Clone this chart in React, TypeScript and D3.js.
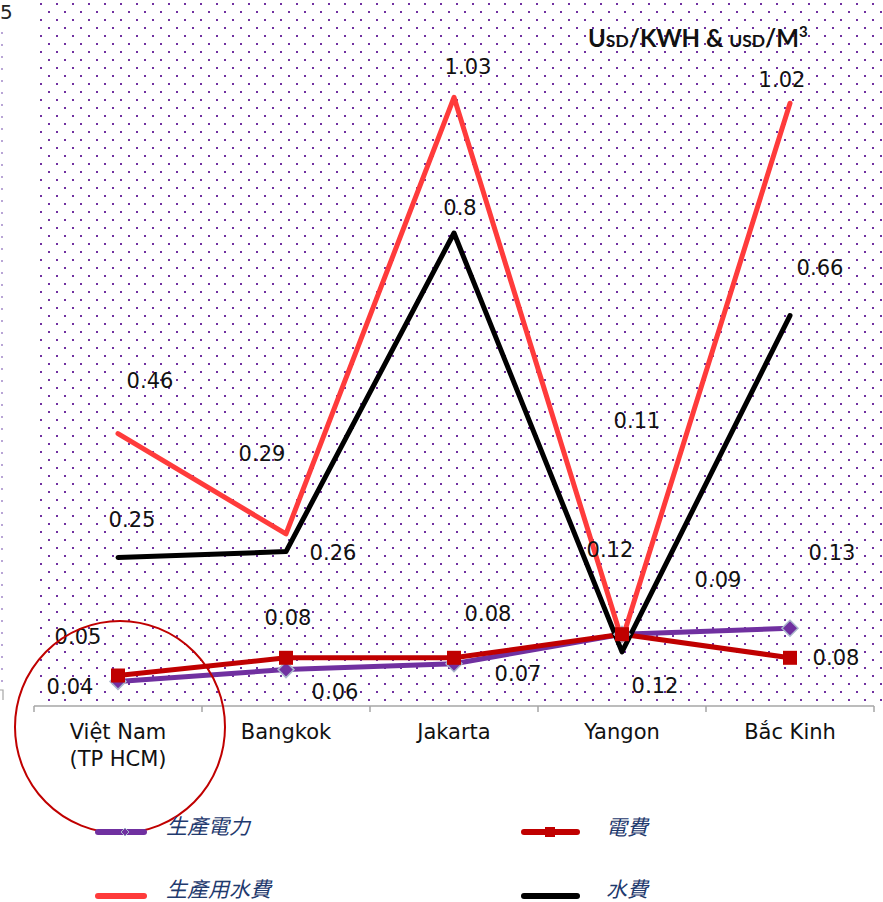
import React from "react";
import * as d3 from "d3";

const categories = ["Việt Nam|(TP HCM)", "Bangkok", "Jakarta", "Yangon", "Bắc Kinh"];
const prodPower = [0.04, 0.06, 0.07, 0.12, 0.13]; // 生產電力
const powerFee = [0.05, 0.08, 0.08, 0.12, 0.08]; // 電費
const prodWater = [0.46, 0.29, 1.03, 0.11, 1.02]; // 生產用水費
const waterFee = [0.25, 0.26, 0.8, 0.09, 0.66]; // 水費
const seriesNames = ["生產電力", "電費", "生產用水費", "水費"];
const titleParts = ["U", "SD", "/KWH & ", "USD", "/M", "3"];

// label offsets (dx, dy) from each point, as placed in the original chart
const offProdPower = [[-48, 5], [49, 22], [64, 10], [33, 51], [42, -76]];
const offPowerFee = [[-40, -39], [2, -40], [34, -44], [-12, -85], [46, 0]];
const offProdWater = [[32, -53], [-24, -80], [14, -31], [15, -220], [-8, -24]];
const offWaterFee = [[14, -38], [47, 1], [6, -26], [96, -72], [30, -48]];

const W = 883;
const H = 902;

export default function App() {
  const x = d3.scaleBand<string>().domain(categories).range([34, 874]).padding(0);
  const y = d3.scaleLinear().domain([0, 1]).range([705, 115]);
  const cx = (i: number) => (x(categories[i]) as number) + x.bandwidth() / 2;
  const line = d3
    .line<number>()
    .x((_, i) => cx(i))
    .y((d) => y(d));

  const series = [
    { vals: prodPower, color: "#7030a0", off: offProdPower, marker: "diamond" },
    { vals: powerFee, color: "#c00000", off: offPowerFee, marker: "square" },
    { vals: prodWater, color: "#ff3b3b", off: offProdWater, marker: "none" },
    { vals: waterFee, color: "#000000", off: offWaterFee, marker: "none" },
  ];

  const font = "'DejaVu Sans', Verdana, sans-serif";
  const cjk = "'Noto Sans CJK TC', sans-serif";
  const tickXs = d3.range(categories.length + 1).map((i) => 34 + i * x.bandwidth());

  return (
    <svg
      width={W}
      height={H}
      style={{ position: "absolute", left: 0, top: 0, background: "#fff" }}
      xmlns="http://www.w3.org/2000/svg"
    >
      <defs>
        <pattern id="dots" patternUnits="userSpaceOnUse" width={16} height={16}>
          <rect x={8} y={3} width={2} height={2} fill="#7030a0" />
          <rect x={0} y={11} width={2} height={2} fill="#7030a0" />
        </pattern>
      </defs>
      <rect x={40} y={0} width={W - 40} height={701} fill="url(#dots)" />

      {/* faint left axis */}
      {d3.range(32, 690, 12).map((yy) => (
        <rect key={yy} x={1} y={yy} width={2} height={2} fill="#b9a6d6" />
      ))}
      <path d="M0,690 H3 V700" fill="none" stroke="#a6a6a6" strokeWidth={1.2} />
      <text x={0} y={19} fontFamily={font} fontSize={20} fill="#222">5</text>

      {/* x axis */}
      <line x1={34} x2={874} y1={706} y2={706} stroke="#a6a6a6" strokeWidth={1.5} />
      {tickXs.map((t) => (
        <line key={t} x1={t} x2={t} y1={706} y2={712} stroke="#a6a6a6" strokeWidth={1.5} />
      ))}
      {categories.map((c, i) => {
        const parts = c.split("|");
        return (
          <text key={c} x={cx(i)} y={739} textAnchor="middle" fontFamily={font} fontSize={21} fill="#111">
            {parts.map((p, j) => (
              <tspan key={j} x={cx(i)} dy={j === 0 ? 0 : 27}>
                {p}
              </tspan>
            ))}
          </text>
        );
      })}

      {/* lines */}
      {series.map((s, k) => (
        <path
          key={k}
          d={line(s.vals) || ""}
          fill="none"
          stroke={s.color}
          strokeWidth={5}
          strokeLinejoin="round"
          strokeLinecap="round"
        />
      ))}
      {/* markers */}
      {series.map((s, k) =>
        s.vals.map((v, i) => {
          if (s.marker === "square")
            return (
              <rect key={`${k}-${i}`} x={cx(i) - 7} y={y(v) - 7} width={14} height={14} fill="#c00000" />
            );
          if (s.marker === "diamond")
            return (
              <path
                key={`${k}-${i}`}
                d={`M${cx(i)},${y(v) - 8} L${cx(i) + 8},${y(v)} L${cx(i)},${y(v) + 8} L${cx(i) - 8},${y(v)} Z`}
                fill="#7030a0"
                stroke="#a9b7cc"
                strokeWidth={1.5}
              />
            );
          return null;
        })
      )}
      {/* data labels */}
      {series.map((s, k) =>
        s.vals.map((v, i) => (
          <text
            key={`l${k}-${i}`}
            x={cx(i) + s.off[i][0]}
            y={y(v) + s.off[i][1] + 7.5}
            textAnchor="middle"
            fontFamily={font}
            fontSize={21}
            fill="#111"
          >
            {String(v)}
          </text>
        ))
      )}

      {/* title */}
      <text x={588} y={47} fontFamily="Lato, 'DejaVu Sans', sans-serif" fontWeight={700} fill="#111" fontSize={24}>
        <tspan fontSize={24}>{titleParts[0]}</tspan>
        <tspan fontSize={17.5}>{titleParts[1]}</tspan>
        <tspan fontSize={24}>{titleParts[2]}</tspan>
        <tspan fontSize={17.5}>{titleParts[3]}</tspan>
        <tspan fontSize={24}>{titleParts[4]}</tspan>
        <tspan fontSize={15} dy={-10}>{titleParts[5]}</tspan>
      </text>

      {/* red circle */}
      <ellipse cx={120} cy={727} rx={105} ry={106} fill="none" stroke="#c00000" strokeWidth={2} />

      {/* legend */}
      <g>
        <line x1={98} x2={144} y1={832} y2={832} stroke="#7030a0" strokeWidth={6} strokeLinecap="round" />
        <path d="M125,828 L129,832 L125,836 L121,832 Z" fill="#7030a0" stroke="#a9b7cc" strokeWidth={1} />
        <text x={166} y={834} fontFamily={cjk} fontStyle="italic" fontSize={21} fill="#1f3a6e">
          {seriesNames[0]}
        </text>
        <line x1={98} x2={144} y1={896} y2={896} stroke="#ff3b3b" strokeWidth={6} strokeLinecap="round" />
        <text x={166} y={897} fontFamily={cjk} fontStyle="italic" fontSize={21} fill="#1f3a6e">
          {seriesNames[2]}
        </text>
        <line x1={524} x2={577} y1={832} y2={832} stroke="#c00000" strokeWidth={6} strokeLinecap="round" />
        <rect x={545} y={827} width={10} height={10} fill="#c00000" />
        <text x={606} y={835} fontFamily={cjk} fontStyle="italic" fontSize={21} fill="#1f3a6e">
          {seriesNames[1]}
        </text>
        <line x1={524} x2={577} y1={896} y2={896} stroke="#000" strokeWidth={6} strokeLinecap="round" />
        <text x={606} y={897} fontFamily={cjk} fontStyle="italic" fontSize={21} fill="#1f3a6e">
          {seriesNames[3]}
        </text>
      </g>
    </svg>
  );
}
